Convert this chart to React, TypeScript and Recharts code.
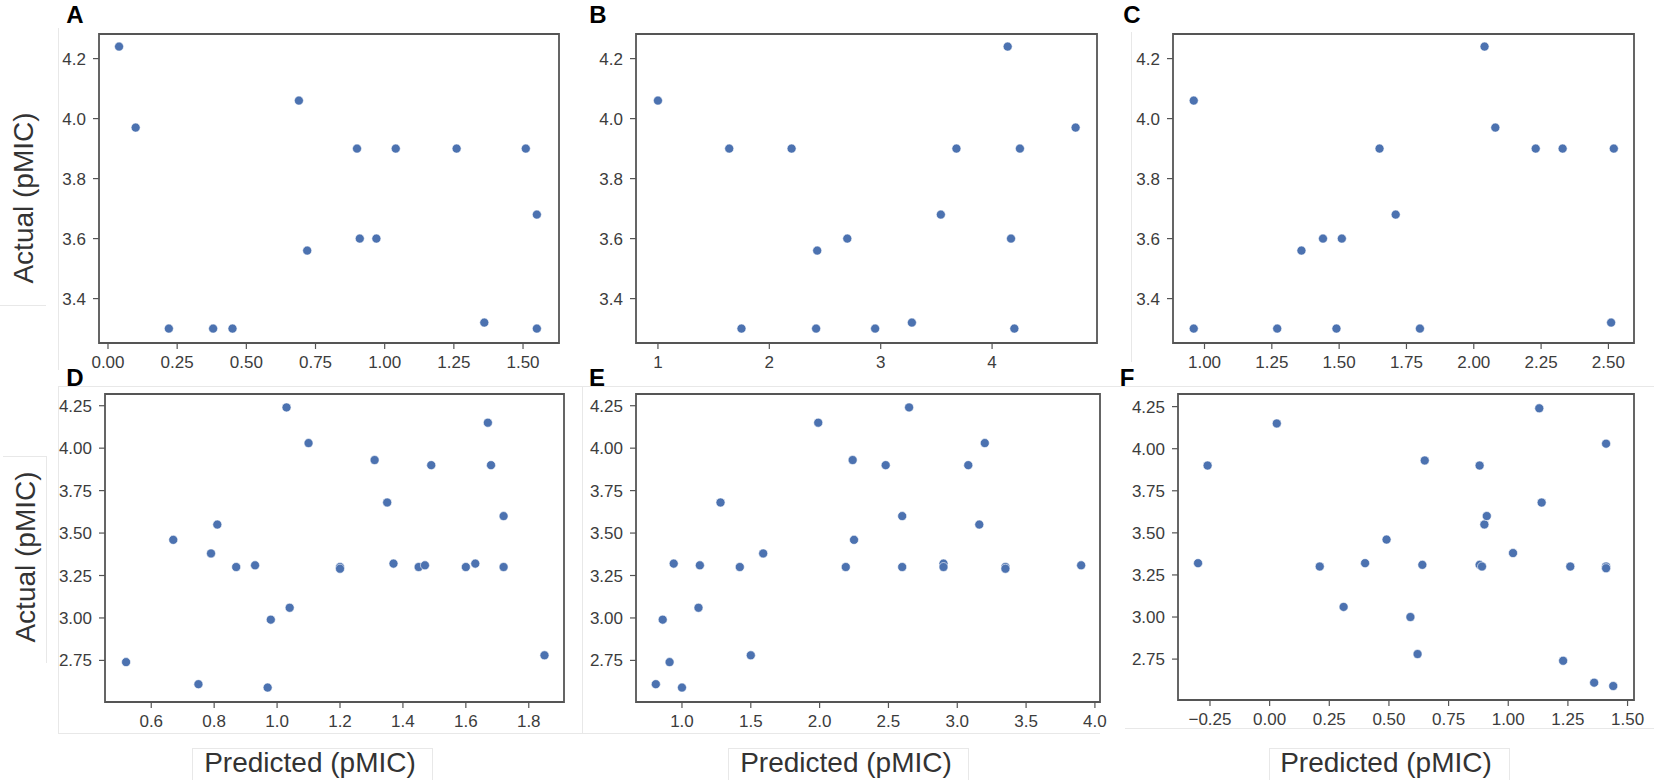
import React from "react";
import {
  ScatterChart,
  Scatter,
  XAxis,
  YAxis,
  ZAxis,
  ReferenceArea,
} from "recharts";

// ---- panel A ----
const aPred = [0.04, 0.1, 0.22, 0.38, 0.45, 0.69, 0.72, 0.9, 0.91, 0.97, 1.04, 1.26, 1.36, 1.51, 1.55, 1.55];
const aActual = [4.24, 3.97, 3.3, 3.3, 3.3, 4.06, 3.56, 3.9, 3.6, 3.6, 3.9, 3.9, 3.32, 3.9, 3.68, 3.3];

// ---- panel B ----
const bPred = [1.0, 1.64, 1.75, 2.2, 2.42, 2.43, 2.7, 2.95, 3.28, 3.54, 3.68, 4.14, 4.17, 4.2, 4.25, 4.75];
const bActual = [4.06, 3.9, 3.3, 3.9, 3.3, 3.56, 3.6, 3.3, 3.32, 3.68, 3.9, 4.24, 3.6, 3.3, 3.9, 3.97];

// ---- panel C ----
const cPred = [0.96, 0.96, 1.27, 1.36, 1.44, 1.49, 1.51, 1.65, 1.71, 1.8, 2.04, 2.08, 2.23, 2.33, 2.51, 2.52];
const cActual = [4.06, 3.3, 3.3, 3.56, 3.6, 3.3, 3.6, 3.9, 3.68, 3.3, 4.24, 3.97, 3.9, 3.9, 3.32, 3.9];

// ---- panel D ----
const dPred = [0.52, 0.67, 0.75, 0.79, 0.81, 0.87, 0.93, 0.97, 0.98, 1.03, 1.04, 1.1, 1.2, 1.2, 1.31, 1.35, 1.37, 1.45, 1.47, 1.49, 1.6, 1.63, 1.67, 1.68, 1.72, 1.72, 1.85];
const dActual = [2.74, 3.46, 2.61, 3.38, 3.55, 3.3, 3.31, 2.59, 2.99, 4.24, 3.06, 4.03, 3.3, 3.29, 3.93, 3.68, 3.32, 3.3, 3.31, 3.9, 3.3, 3.32, 4.15, 3.9, 3.6, 3.3, 2.78];

// ---- panel E ----
const ePred = [0.81, 0.86, 0.91, 0.94, 1.0, 1.12, 1.13, 1.28, 1.42, 1.5, 1.59, 1.99, 2.19, 2.24, 2.25, 2.48, 2.6, 2.6, 2.65, 2.9, 2.9, 3.08, 3.16, 3.2, 3.35, 3.35, 3.9];
const eActual = [2.61, 2.99, 2.74, 3.32, 2.59, 3.06, 3.31, 3.68, 3.3, 2.78, 3.38, 4.15, 3.3, 3.93, 3.46, 3.9, 3.6, 3.3, 4.24, 3.32, 3.3, 3.9, 3.55, 4.03, 3.3, 3.29, 3.31];

// ---- panel F ----
const fPred = [-0.3, -0.26, 0.03, 0.21, 0.31, 0.4, 0.49, 0.59, 0.62, 0.64, 0.65, 0.88, 0.88, 0.89, 0.9, 0.91, 1.02, 1.13, 1.14, 1.23, 1.26, 1.36, 1.41, 1.41, 1.41, 1.44];
const fActual = [3.32, 3.9, 4.15, 3.3, 3.06, 3.32, 3.46, 3.0, 2.78, 3.31, 3.93, 3.9, 3.31, 3.3, 3.55, 3.6, 3.38, 4.24, 3.68, 2.74, 3.3, 2.61, 4.03, 3.3, 3.29, 2.59];

// ---- ticks ----
const aTicksX = [0, 0.25, 0.5, 0.75, 1.0, 1.25, 1.5];
const bTicksX = [1, 2, 3, 4];
const cTicksX = [1.0, 1.25, 1.5, 1.75, 2.0, 2.25, 2.5];
const dTicksX = [0.6, 0.8, 1.0, 1.2, 1.4, 1.6, 1.8];
const eTicksX = [1.0, 1.5, 2.0, 2.5, 3.0, 3.5, 4.0];
const fTicksX = [-0.25, 0, 0.25, 0.5, 0.75, 1.0, 1.25, 1.5];
const topTicksY = [3.4, 3.6, 3.8, 4.0, 4.2];
const bottomTicksY = [2.75, 3.0, 3.25, 3.5, 3.75, 4.0, 4.25];

const FONT = "'Liberation Sans', Arial, Helvetica, sans-serif";
const DOT = "#4c72b0";
const FRAME = "#555555";
const TICK_TEXT = "#3c3c3c";
const FAINT = "#e8e8e8";

const YW = 60;
const XH = 40;
const PAD = 4;
const PAD_R = 26; // room for the last x tick label

type PanelProps = {
  letter: string;
  letterPos: [number, number];
  box: [number, number, number, number]; // left, top, right, bottom of plot area
  xs: number[];
  ys: number[];
  xDomain: [number, number];
  yDomain: [number, number];
  xTicks: number[];
  yTicks: number[];
  xDec: number;
  yDec: number;
};

const fmt = (dec: number) => (v: number) => v.toFixed(dec).replace("-", "\u2212");

function Panel(p: PanelProps) {
  const [l, t, r, b] = p.box;
  const data = p.xs.map((x, i) => ({ x, y: p.ys[i] }));
  const w = r - l + YW + PAD_R;
  const h = b - t + XH + PAD;
  return (
    <>
      <div
        style={{
          position: "absolute",
          left: p.letterPos[0],
          top: p.letterPos[1],
          transform: "translate(-50%, -50%)",
          fontFamily: FONT,
          fontWeight: 700,
          fontSize: 24,
          lineHeight: 1,
          color: "#000",
        }}
      >
        {p.letter}
      </div>
      <div style={{ position: "absolute", left: l - YW, top: t - PAD }}>
        <ScatterChart width={w} height={h} margin={{ top: PAD, right: PAD_R, left: 0, bottom: 0 }}>
          <XAxis
            type="number"
            dataKey="x"
            domain={p.xDomain}
            ticks={p.xTicks}
            interval={0}
            allowDataOverflow
            tickFormatter={fmt(p.xDec)}
            tick={{ fill: TICK_TEXT, fontSize: 17, fontFamily: FONT }}
            tickLine={{ stroke: FRAME, strokeWidth: 1.2 }}
            axisLine={false}
            tickSize={6}
            tickMargin={7}
            height={XH}
          />
          <YAxis
            type="number"
            dataKey="y"
            domain={p.yDomain}
            ticks={p.yTicks}
            interval={0}
            allowDataOverflow
            tickFormatter={fmt(p.yDec)}
            tick={{ fill: TICK_TEXT, fontSize: 17, fontFamily: FONT }}
            tickLine={{ stroke: FRAME, strokeWidth: 1.2 }}
            axisLine={false}
            tickSize={6}
            tickMargin={7}
            width={YW}
          />
          <ZAxis range={[26, 26]} />
          <ReferenceArea
            x1={p.xDomain[0]}
            x2={p.xDomain[1]}
            y1={p.yDomain[0]}
            y2={p.yDomain[1]}
            fill="none"
            stroke={FRAME}
            strokeWidth={1.8}
          />
          <Scatter data={data} fill={DOT} stroke="#ffffff" strokeWidth={0.6} isAnimationActive={false} />
        </ScatterChart>
      </div>
    </>
  );
}

function Faint({ x, y, w, h }: { x: number; y: number; w: number; h: number }) {
  return <div style={{ position: "absolute", left: x, top: y, width: w, height: h, background: FAINT }} />;
}

const labelStyle: React.CSSProperties = {
  position: "absolute",
  fontFamily: FONT,
  fontSize: 28,
  lineHeight: 1,
  color: "#333",
  whiteSpace: "nowrap",
};

export default function App() {
  return (
    <div
      style={{
        position: "absolute",
        left: 0,
        top: 0,
        width: 1654,
        height: 780,
        background: "#fff",
        overflow: "hidden",
      }}
    >
      {/* faint boxes left over from the pasted-together figure */}
      <Faint x={58} y={28} w={1} h={342} />
      <Faint x={0} y={305} w={46} h={1} />
      <Faint x={1131} y={32} w={1} h={330} />
      <Faint x={58} y={386} w={1596} h={1} />
      <Faint x={58} y={387} w={1} h={346} />
      <Faint x={582} y={387} w={1} h={346} />
      <Faint x={58} y={733} w={1042} h={1} />
      <Faint x={1125} y={728} w={529} h={1} />
      <Faint x={3} y={456} w={43} h={1} />
      <Faint x={46} y={456} w={1} h={207} />
      <Faint x={192} y={748} w={240} h={1} />
      <Faint x={192} y={748} w={1} h={32} />
      <Faint x={432} y={748} w={1} h={32} />
      <Faint x={728} y={748} w={240} h={1} />
      <Faint x={728} y={748} w={1} h={32} />
      <Faint x={968} y={748} w={1} h={32} />
      <Faint x={1269} y={748} w={240} h={1} />
      <Faint x={1269} y={748} w={1} h={32} />
      <Faint x={1509} y={748} w={1} h={32} />

      <Panel letter="A" letterPos={[75, 15]} box={[99, 34, 559, 343]} xs={aPred} ys={aActual}
        xDomain={[-0.0325, 1.63]} yDomain={[3.252, 4.282]} xTicks={aTicksX} yTicks={topTicksY} xDec={2} yDec={1} />
      <Panel letter="B" letterPos={[598, 15]} box={[636, 34, 1097, 343]} xs={bPred} ys={bActual}
        xDomain={[0.803, 4.942]} yDomain={[3.252, 4.282]} xTicks={bTicksX} yTicks={topTicksY} xDec={0} yDec={1} />
      <Panel letter="C" letterPos={[1132, 15]} box={[1173, 34, 1634, 343]} xs={cPred} ys={cActual}
        xDomain={[0.883, 2.595]} yDomain={[3.252, 4.282]} xTicks={cTicksX} yTicks={topTicksY} xDec={2} yDec={1} />
      <Panel letter="D" letterPos={[75, 378]} box={[105, 394, 564, 702]} xs={dPred} ys={dActual}
        xDomain={[0.453, 1.912]} yDomain={[2.505, 4.319]} xTicks={dTicksX} yTicks={bottomTicksY} xDec={1} yDec={2} />
      <Panel letter="E" letterPos={[597, 378]} box={[636, 394, 1100, 702]} xs={ePred} ys={eActual}
        xDomain={[0.666, 4.037]} yDomain={[2.505, 4.319]} xTicks={eTicksX} yTicks={bottomTicksY} xDec={1} yDec={2} />
      <Panel letter="F" letterPos={[1127, 378]} box={[1178, 394, 1634, 700]} xs={fPred} ys={fActual}
        xDomain={[-0.384, 1.527]} yDomain={[2.507, 4.325]} xTicks={fTicksX} yTicks={bottomTicksY} xDec={2} yDec={2} />

      <div style={{ ...labelStyle, left: 24, top: 198, transform: "translate(-50%, -50%) rotate(-90deg)" }}>
        Actual (pMIC)
      </div>
      <div style={{ ...labelStyle, left: 26, top: 557, transform: "translate(-50%, -50%) rotate(-90deg)" }}>
        Actual (pMIC)
      </div>
      <div style={{ ...labelStyle, left: 310, top: 763, transform: "translate(-50%, -50%)" }}>Predicted (pMIC)</div>
      <div style={{ ...labelStyle, left: 846, top: 763, transform: "translate(-50%, -50%)" }}>Predicted (pMIC)</div>
      <div style={{ ...labelStyle, left: 1386, top: 763, transform: "translate(-50%, -50%)" }}>Predicted (pMIC)</div>
    </div>
  );
}
